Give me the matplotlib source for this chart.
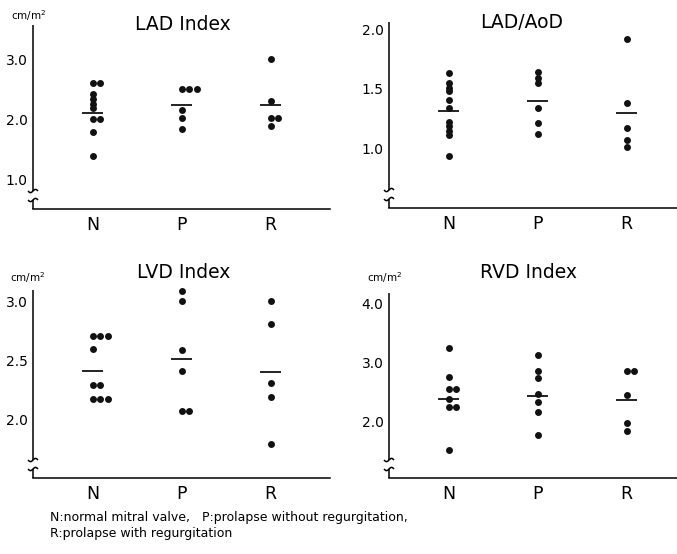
import numpy as np
import matplotlib.pyplot as plt

W, H = 677, 554
DPI = 100

plt.rcParams["font.family"] = ["DejaVu Sans"]

groups = ["N", "P", "R"]

# LAD Index (cm/m2)
lad_index_n = [2.61, 2.61, 2.42, 2.33, 2.25, 2.18, 2.00, 2.00, 1.79, 1.38]
lad_index_p = [2.50, 2.50, 2.50, 2.15, 2.01, 1.83]
lad_index_r = [3.00, 2.30, 2.01, 2.01, 1.89]
lad_index_mean = [2.11, 2.24, 2.23]

# LAD/AoD ratio
lad_aod_n = [1.63, 1.55, 1.51, 1.48, 1.41, 1.34, 1.22, 1.19, 1.15, 1.11, 0.94]
lad_aod_p = [1.64, 1.59, 1.55, 1.34, 1.21, 1.12]
lad_aod_r = [1.92, 1.38, 1.17, 1.07, 1.01]
lad_aod_mean = [1.31, 1.40, 1.30]

# LVD Index (cm/m2)
lvd_index_n = [2.71, 2.71, 2.71, 2.60, 2.29, 2.29, 2.17, 2.17, 2.17]
lvd_index_p = [3.09, 3.01, 2.59, 2.41, 2.07, 2.07]
lvd_index_r = [3.01, 2.81, 2.31, 2.19, 1.79]
lvd_index_mean = [2.41, 2.51, 2.40]

# RVD Index (cm/m2)
rvd_index_n = [3.24, 2.76, 2.55, 2.55, 2.38, 2.24, 2.24, 1.53]
rvd_index_p = [3.12, 2.86, 2.74, 2.47, 2.34, 2.16, 1.77]
rvd_index_r = [2.86, 2.86, 2.45, 1.97, 1.84]
rvd_index_mean = [2.38, 2.44, 2.36]

footnote_1 = "N:normal mitral valve,   P:prolapse without regurgitation,"
footnote_2 = "R:prolapse with regurgitation"


def px(x, y):
    return x / W, 1 - y / H


def spread(vals, step=0.085):
    # side-by-side offsets for repeated values
    seen = {}
    out = []
    for v in vals:
        k = seen.get(v, 0)
        out.append(k * step)
        seen[v] = k + 1
    return np.array(out)


def draw_break(ax, lo_px, hi_px):
    # axis break: gap in the y spine with two small waves
    bb = ax.get_position()
    wpx = bb.width * W
    hpx = bb.height * H
    kw = dict(transform=ax.transAxes, color="black", lw=1.1, clip_on=False,
              solid_capstyle="butt")
    ax.plot([0, 0], [0, lo_px / hpx], **kw)
    ax.plot([0, 0], [hi_px / hpx, 1], **kw)
    t = np.linspace(-1, 1, 30)
    for yc in (lo_px, hi_px):
        ax.plot(t * 5 / wpx, (yc + 1.6 * np.sin(np.pi * t)) / hpx, **kw)


fig = plt.figure(figsize=(W / DPI, H / DPI), dpi=DPI)

panels = [
    # rect in px (left, top, right, bottom), data, mean, ylim, yticks, title
    ((33, 25, 330, 209), [lad_index_n, lad_index_p, lad_index_r], lad_index_mean,
     (0.5, 3.57), [1.0, 2.0, 3.0], "LAD Index", (182.5, 24), (29, 16)),
    ((389, 22, 677, 208), [lad_aod_n, lad_aod_p, lad_aod_r], lad_aod_mean,
     (0.5, 2.06), [1.0, 1.5, 2.0], "LAD/AoD", (521.5, 23), None),
    ((33, 290, 330, 478), [lvd_index_n, lvd_index_p, lvd_index_r], lvd_index_mean,
     (1.5, 3.1), [2.0, 2.5, 3.0], "LVD Index", (184, 272), (28, 278)),
    ((389, 293, 677, 478), [rvd_index_n, rvd_index_p, rvd_index_r], rvd_index_mean,
     (1.05, 4.17), [2.0, 3.0, 4.0], "RVD Index", (529, 272), (385, 278)),
]

for rect, data, means, ylim, yticks, title, tpos, upos in panels:
    l, t, r, b = rect
    ax = fig.add_axes([l / W, 1 - b / H, (r - l) / W, (b - t) / H])
    for i, vals in enumerate(data):
        vals = np.array(vals)
        ax.plot(i + spread(vals), vals, "o", color="#111111", markersize=5,
                markeredgewidth=0, clip_on=False)
        ax.hlines(means[i], i - 0.115, i + 0.12, color="#111111", lw=1.3)
    ax.set_xlim(-0.67, (r - l) / 89 - 0.67)
    ax.set_ylim(*ylim)
    ax.set_yticks(yticks)
    ax.set_yticklabels([f"{v:.1f}" for v in yticks])
    ax.set_xticks(range(len(groups)))
    ax.set_xticklabels(groups)
    ax.tick_params(axis="y", length=0, pad=4, labelsize=10)
    ax.tick_params(axis="x", length=0, pad=5, labelsize=12.5)
    for s in ("top", "right", "left"):
        ax.spines[s].set_visible(False)
    ax.spines["bottom"].set_linewidth(1.1)
    ax.patch.set_alpha(0)
    draw_break(ax, 9, 18)
    fig.text(*px(*tpos), title, ha="center", va="center", fontsize=13.5)
    if upos is not None:
        fig.text(*px(*upos), "cm/m$^2$", ha="center", va="center", fontsize=7.5)

fig.text(*px(50, 517), footnote_1, ha="left", va="center", fontsize=9)
fig.text(*px(50, 534), footnote_2, ha="left", va="center", fontsize=9)

fig.savefig("out.png", dpi=DPI)
